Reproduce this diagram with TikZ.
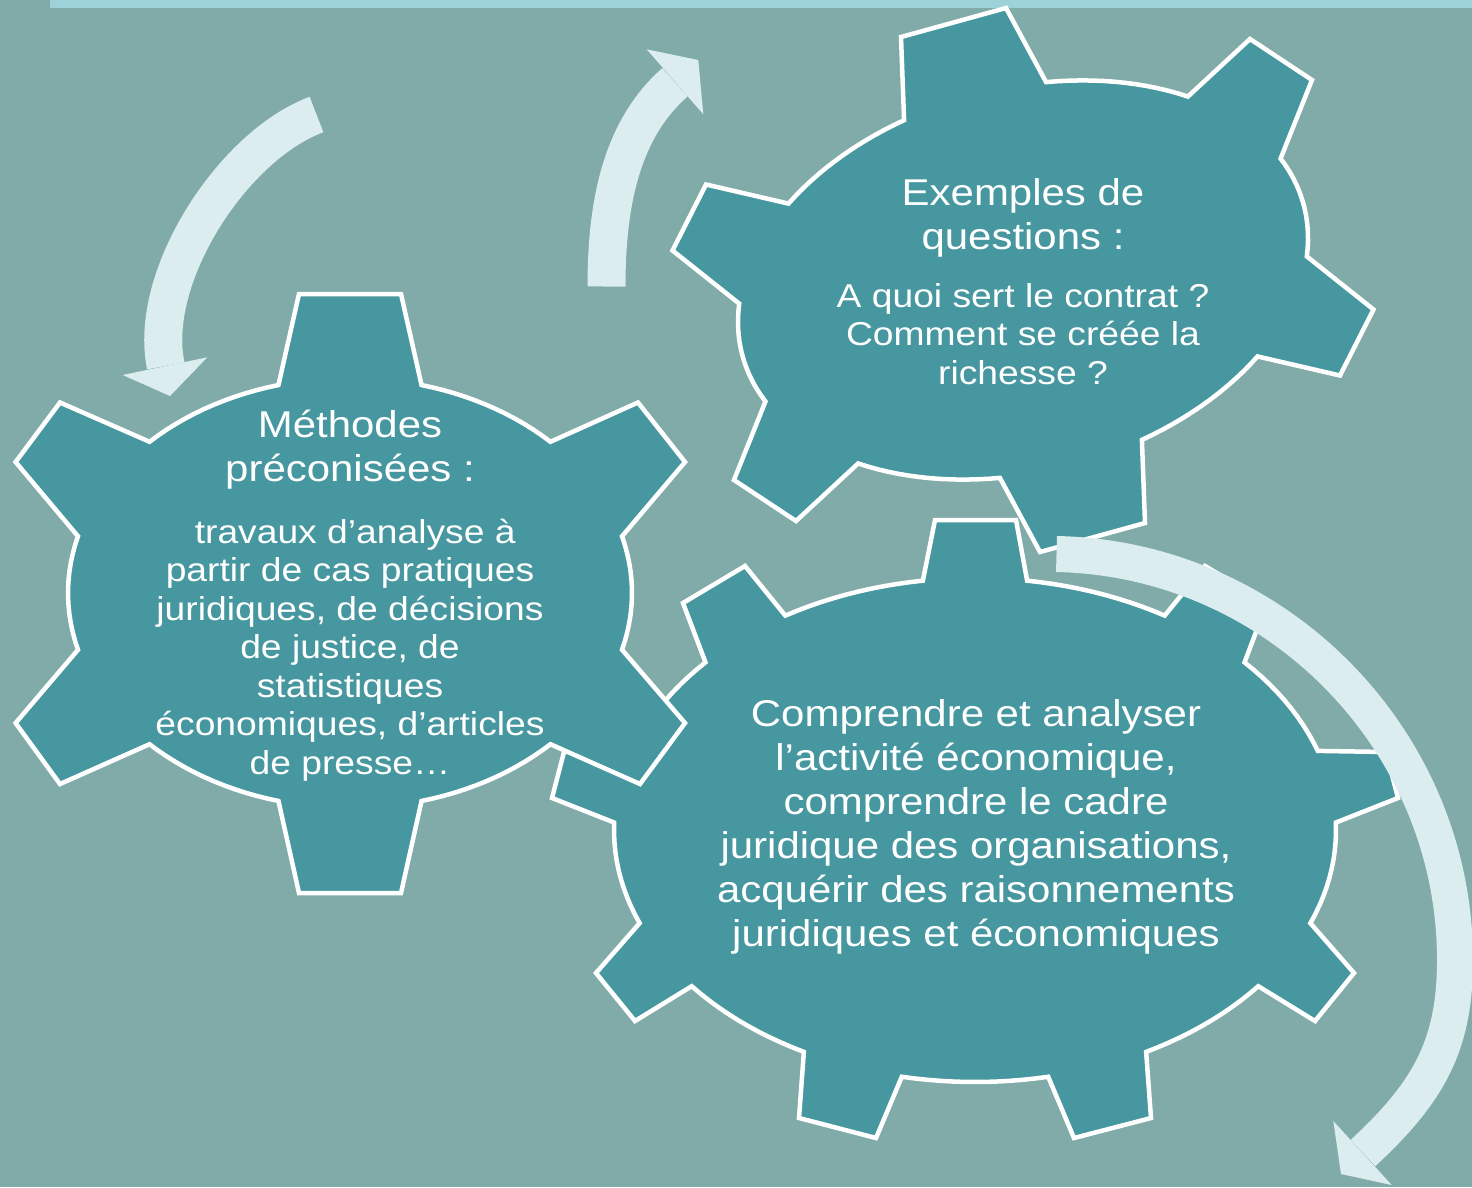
\documentclass[tikz,border=0pt]{standalone}
\usepackage{fontspec}
\setmainfont{Liberation Sans}
\newfontfamily\gearfont[FakeStretch=1.125]{Liberation Sans}
\definecolor{bgcol}{RGB}{128,171,169}
\definecolor{bandcol}{RGB}{157,211,216}
\definecolor{gearcol}{RGB}{70,151,159}
\definecolor{arrowcol}{RGB}{219,237,239}
\begin{document}
\begin{tikzpicture}[x=1pt,y=-1pt,
  declare function={
    bgx(\t)=975+361*cos(\t); bgy(\t)=830-252*sin(\t);
    lgx(\t)=350+282*cos(\t); lgy(\t)=593-215*sin(\t);
    tgx(\t)=1023+290.6*cos(\t)*0.96593-191.4*sin(\t)*0.25882;
    tgy(\t)=280-290.6*cos(\t)*0.25882-191.4*sin(\t)*0.96593;
  },
  gear/.style={fill=gearcol, draw=white, line width=4.5pt, line join=miter},
  arrowband/.style={draw=arrowcol, line width=#1, line cap=butt},
  arrowhead/.style={fill=arrowcol},
  titletext/.style={text=white, align=center, anchor=base, inner sep=0pt,
    font=\gearfont\fontsize{37.3}{44}\selectfont},
  bodytext/.style={text=white, align=center, anchor=base, inner sep=0pt,
    font=\gearfont\fontsize{33.1}{38.5}\selectfont}
]
\fill[bgcol] (0,0) rectangle (1472,1187);
\useasboundingbox (0,0) rectangle (1472,1187);
\fill[bandcol] (50,0) rectangle (1472,8);

% big gear (bottom right)
\draw[gear] ({bgx(1.7)},{bgy(1.7)}) -- (1398,798) -- (1386,752)
  -- plot[domain=18.3:41.7,samples=12] ({bgx(\x)},{bgy(\x)}) -- (1267,603) -- (1205,566)
  -- plot[domain=58.3:81.7,samples=12] ({bgx(\x)},{bgy(\x)}) -- (1016,520) -- (935,520)
  -- plot[domain=98.3:121.7,samples=12] ({bgx(\x)},{bgy(\x)}) -- (745,566) -- (683,603)
  -- plot[domain=138.3:161.7,samples=12] ({bgx(\x)},{bgy(\x)}) -- (564,752) -- (552,798)
  -- plot[domain=178.3:201.7,samples=12] ({bgx(\x)},{bgy(\x)}) -- (596,973) -- (635,1021)
  -- plot[domain=218.3:241.7,samples=12] ({bgx(\x)},{bgy(\x)}) -- (799,1118) -- (876,1138)
  -- plot[domain=258.3:281.7,samples=12] ({bgx(\x)},{bgy(\x)}) -- (1074,1138) -- (1151,1118)
  -- plot[domain=298.3:321.7,samples=12] ({bgx(\x)},{bgy(\x)}) -- (1315,1021) -- (1354,973)
  -- plot[domain=338.3:361.7,samples=12] ({bgx(\x)},{bgy(\x)}) -- cycle;

% left gear
\draw[gear] ({lgx(15.3)},{lgy(15.3)}) -- (685,462) -- (638,402.5)
  -- plot[domain=44.7:75.3,samples=14] ({lgx(\x)},{lgy(\x)}) -- (401,294) -- (299,294)
  -- plot[domain=104.7:135.3,samples=14] ({lgx(\x)},{lgy(\x)}) -- (60,402.5) -- (15.6,462)
  -- plot[domain=164.7:195.3,samples=14] ({lgx(\x)},{lgy(\x)}) -- (15.6,723) -- (60,784)
  -- plot[domain=224.7:255.3,samples=14] ({lgx(\x)},{lgy(\x)}) -- (299,893) -- (401,893)
  -- plot[domain=284.7:315.3,samples=14] ({lgx(\x)},{lgy(\x)}) -- (640,784) -- (685,723)
  -- plot[domain=344.7:375.3,samples=14] ({lgx(\x)},{lgy(\x)}) -- cycle;

% top gear
\draw[gear] ({tgx(-44.65)},{tgy(-44.65)}) -- (1340,375.5) -- (1373.5,309.5)
  -- plot[domain=-15.35:15.35,samples=14] ({tgx(\x)},{tgy(\x)}) -- (1312,80) -- (1250,39)
  -- plot[domain=44.65:75.35,samples=14] ({tgx(\x)},{tgy(\x)}) -- (1006,8) -- (901,37)
  -- plot[domain=104.65:135.35,samples=14] ({tgx(\x)},{tgy(\x)}) -- (706,184.5) -- (672.5,250.5)
  -- plot[domain=164.65:195.35,samples=14] ({tgx(\x)},{tgy(\x)}) -- (734,480) -- (796,521)
  -- plot[domain=224.65:255.35,samples=14] ({tgx(\x)},{tgy(\x)}) -- (1040,552) -- (1145,523)
  -- plot[domain=284.65:315.35,samples=14] ({tgx(\x)},{tgy(\x)}) -- cycle;

% texts (anchor=base is the baseline of the last line)
\node[titletext] (methT) at (350,481) {Méthodes\\préconisées :};
\node[bodytext] (methB) at (350,774) {\ travaux d’analyse à\\partir de cas pratiques\\juridiques, de décisions\\de justice, de\\statistiques\\économiques, d’articles\\de presse…};
\node[titletext] (exT) at (1023,249) {Exemples de\\questions :};
\node[bodytext] (exB) at (1023,384) {A quoi sert le contrat ?\\Comment se créée la\\richesse ?};
\node[titletext] (comp) at (976,946.5) {Comprendre et analyser\\l’activité économique,\\comprendre le cadre\\juridique des organisations,\\acquérir des raisonnements\\juridiques et économiques};

% arrows
\coordinate (a1s) at (316.5,114.5);
\coordinate (a1e) at (165.8,365.8);
\draw[arrowband=38pt] (a1s) .. controls (232.1,145.8) and (147.3,277.7) .. (a1e);
\fill[arrowhead] (122.7,375) -- (170,396) -- (207.3,357.3) -- cycle;

\coordinate (a2s) at (606.5,286.5);
\coordinate (a2e) at (675,82.3);
\draw[arrowband=38pt] (a2s) .. controls (606.5,211.3) and (618.3,131.7) .. (a2e);
\fill[arrowhead] (646.7,49.3) -- (698.3,60) -- (703.3,114.3) -- cycle;

\coordinate (a3s) at (1056.5,554);
\coordinate (a3m) at (1455,960);
\coordinate (a3e) at (1363,1153);
\draw[arrowband=36pt] (a3s) .. controls (1276.5,558.4) and (1455,740) .. (a3m)
  .. controls (1455,1045) and (1429,1091.8) .. (a3e);
\fill[arrowhead] (1333.3,1121) -- (1341,1174) -- (1391.7,1185) -- cycle;
\end{tikzpicture}
\end{document}
